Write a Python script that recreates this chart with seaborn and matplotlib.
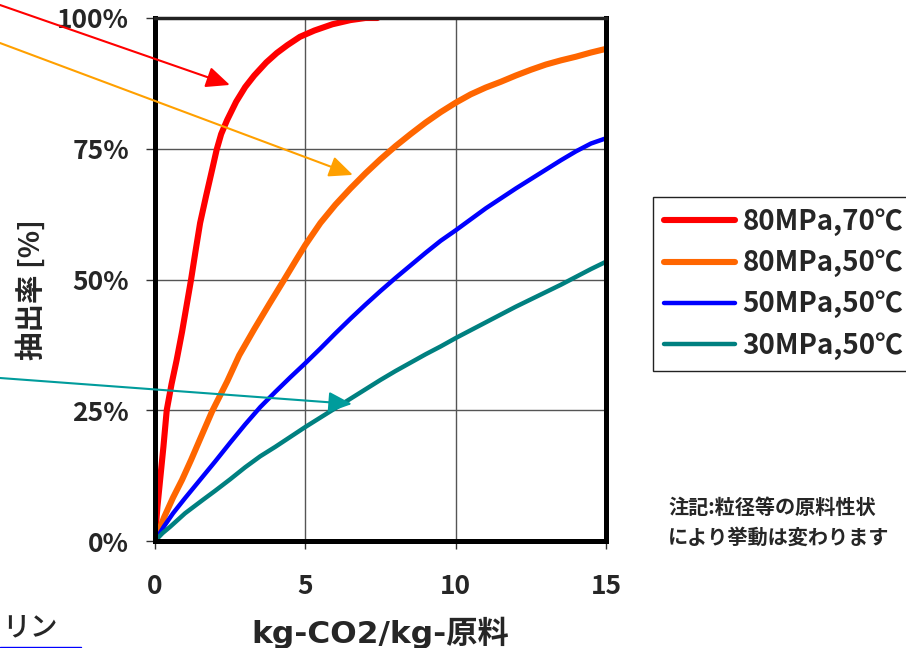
import matplotlib
matplotlib.use("Agg")
import matplotlib.pyplot as plt
import seaborn as sns
import pandas as pd
from matplotlib.lines import Line2D
from matplotlib.ticker import FuncFormatter

# Extraction yield vs. solvent-to-feed ratio for four conditions
series_names = ["80MPa,70℃", "80MPa,50℃", "50MPa,50℃", "30MPa,50℃"]

x_80_70 = [0, 0.04, 0.08, 0.17, 0.28, 0.39, 0.55, 0.72, 0.9, 1.05, 1.2, 1.35, 1.5,
           1.7, 1.9, 2.05, 2.2, 2.4, 2.7, 3.0, 3.3, 3.7, 4.05, 4.4, 4.82, 5.3, 5.9,
           6.5, 7.0, 7.4]
y_80_70 = [0, 3.5, 6.5, 11.7, 18, 25, 30, 34.6, 40, 45, 50, 55.5, 60.8,
           66, 71, 74.8, 77.8, 80.5, 84, 86.8, 89, 91.5, 93.3, 94.8, 96.4, 97.6, 98.8,
           99.6, 100, 100]

x_80_50 = [0, 0.3, 0.6, 0.9, 1.2, 1.5, 1.9, 2.4, 2.8, 3.3, 3.8, 4.3, 4.7, 5.0, 5.5,
           6.0, 6.5, 7.0, 7.5, 8.0, 8.5, 9.0, 9.5, 10.0, 10.5, 11.0, 11.5, 12.0,
           12.5, 13.0, 13.5, 14.0, 14.5, 15.0]
y_80_50 = [0, 4.5, 8.3, 11.7, 15.5, 19.5, 24.8, 30.5, 35.5, 40.5, 45.3, 50, 53.8,
           56.6, 60.8, 64.3, 67.4, 70.3, 73, 75.5, 77.8, 80, 82, 83.8, 85.4, 86.7,
           87.8, 89.0, 90.1, 91.1, 91.9, 92.6, 93.4, 94.1]

x_50_50 = [0, 0.3, 0.6, 1.0, 1.5, 2.0, 2.5, 3.0, 3.5, 4.0, 4.5, 5.0, 5.5, 6.0, 6.5,
           7.0, 7.5, 8.0, 8.5, 9.0, 9.5, 10.0, 10.5, 11.0, 11.5, 12.0, 12.5, 13.0,
           13.5, 14.0, 14.5, 15.0]
y_50_50 = [0, 2.8, 5.3, 8.2, 11.7, 15.2, 18.8, 22.3, 25.6, 28.5, 31.3, 34.0, 36.8,
           39.7, 42.5, 45.2, 47.8, 50.3, 52.7, 55.1, 57.4, 59.4, 61.5, 63.6, 65.5,
           67.4, 69.2, 71.0, 72.8, 74.5, 76.0, 77.0]

x_30_50 = [0, 0.25, 0.5, 0.75, 1.0, 1.3, 1.6, 2.0, 2.5, 3.0, 3.5, 4.0, 4.5, 5.0,
           5.5, 6.0, 6.5, 7.0, 7.5, 8.0, 8.5, 9.0, 9.5, 10.0, 10.5, 11.0, 11.5,
           12.0, 12.5, 13.0, 13.5, 14.0, 14.5, 15.0]
y_30_50 = [0, 1.5, 2.7, 4.0, 5.3, 6.6, 7.9, 9.6, 11.8, 14.1, 16.2, 18.0, 19.9,
           21.8, 23.6, 25.4, 27.2, 29.0, 30.8, 32.5, 34.1, 35.7, 37.2, 38.8, 40.3,
           41.8, 43.3, 44.8, 46.2, 47.6, 49.0, 50.5, 52.0, 53.4]

x_ticks = [0, 5, 10, 15]
y_ticks = [0, 25, 50, 75, 100]

line_colors = ["#FF0000", "#FF6600", "#0000FF", "#008080"]
line_widths = [4.4, 4.4, 3.2, 3.2]

# annotation arrows: target point on each curve (data units)
arrow_colors = ["#FF0000", "#FFA000", "#009C9C"]
arrow_tip_x = [2.49, 6.58, 6.55]
arrow_tip_y = [87.2, 70.0, 26.2]
arrow_tail_fy = [1 - 5 / 648, 1 - 43 / 648, 1 - 378 / 648]

sns.set_style("white")
plt.rcParams["font.family"] = ["Noto Sans CJK JP", "DejaVu Sans"]
plt.rcParams["font.weight"] = "bold"

W, H = 906, 648
fig = plt.figure(figsize=(W / 100, H / 100), dpi=100)
ax = fig.add_axes([155 / W, 1 - 541 / H, 451 / W, 523 / H])

frames = []
for name, xs, ys in zip(series_names, [x_80_70, x_80_50, x_50_50, x_30_50],
                        [y_80_70, y_80_50, y_50_50, y_30_50]):
    frames.append(pd.DataFrame({"ratio": xs, "yield": ys, "condition": name}))
df = pd.concat(frames, ignore_index=True)

for name, col, lw in zip(series_names, line_colors, line_widths):
    sub = df[df["condition"] == name]
    sns.lineplot(data=sub, x="ratio", y="yield", color=col, linewidth=lw,
                 label=name, ax=ax, estimator=None, sort=False)

ax.set_xlim(0, 15)
ax.set_ylim(0, 100)
ax.set_xticks(x_ticks)
ax.set_yticks(y_ticks)
ax.yaxis.set_major_formatter(FuncFormatter(lambda v, p: f"{v:.0f}%"))
ax.grid(True, color="#555555", linewidth=1.0)
ax.set_axisbelow(True)

ax.tick_params(axis="x", direction="out", length=6, width=1, color="#333333",
               labelsize=19, pad=17, bottom=True)
ax.tick_params(axis="y", direction="out", length=6.5, width=1, color="#333333",
               labelsize=19, pad=12, left=True)
for lab in ax.get_xticklabels() + ax.get_yticklabels():
    lab.set_fontweight("bold")

for side, sp in ax.spines.items():
    sp.set_visible(True)
    sp.set_color("black")
    sp.set_linewidth(3.6)
ax.spines["top"].set_linewidth(2.5)
ax.spines["top"].set_color("#222222")

ax.set_xlabel("kg-CO2/kg-原料", fontsize=22.5, fontweight="bold",
              family=["DejaVu Sans", "Noto Sans CJK JP"])
ax.xaxis.set_label_coords(0.5, (541 - 633) / 523)
ax.xaxis.label.set_va("center")
ax.set_ylabel("抽出率 [%]", fontsize=20.5, fontweight="bold")
ax.yaxis.set_label_coords((31 - 155) / 451, (541 - 290) / 523)
ax.yaxis.label.set_va("center")

leg = ax.legend(loc="upper left", bbox_to_anchor=(653 / W, 1 - 197 / H),
                bbox_transform=fig.transFigure, frameon=True, fancybox=False,
                edgecolor="#222222", framealpha=1, borderaxespad=0, borderpad=0.4,
                handlelength=2.55, handletextpad=0.28, labelspacing=0.47,
                prop={"size": 20, "weight": "bold"})
leg.get_frame().set_linewidth(1.0)

for col, tx, ty, fy in zip(arrow_colors, arrow_tip_x, arrow_tip_y, arrow_tail_fy):
    ax.annotate("", xy=(tx, ty), xycoords="data", xytext=(0, fy),
                textcoords="figure fraction", annotation_clip=False,
                arrowprops=dict(arrowstyle="-|>,head_length=0.9,head_width=0.4",
                                mutation_scale=16, color=col, lw=1.5,
                                shrinkA=0, shrinkB=0))

fig.text(668 / W, 1 - 507 / H, "注記:粒径等の原料性状", fontsize=14.5,
         fontweight="bold", ha="left", va="center")
fig.text(668 / W, 1 - 537 / H, "により挙動は変わります", fontsize=14.5,
         fontweight="bold", ha="left", va="center")

fig.text(2 / W, 1 - 627 / H, "リン", fontsize=20, fontweight="medium",
         ha="left", va="center")
fig.add_artist(Line2D([0, 81 / W], [1 - 646.5 / H, 1 - 646.5 / H],
                      transform=fig.transFigure, color="#0000FF", linewidth=1.0))

fig.savefig("out.png", dpi=100)
